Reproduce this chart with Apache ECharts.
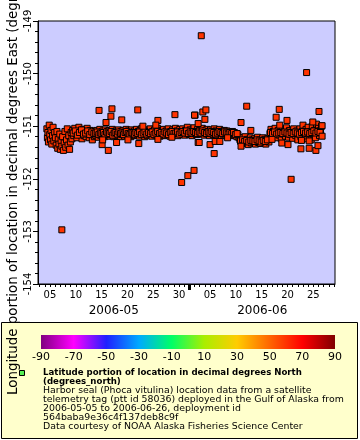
<!DOCTYPE html>
<html><head><meta charset="utf-8">
<script src="https://cdn.jsdelivr.net/npm/echarts@6/dist/echarts.min.js"></script>
<style>html,body{margin:0;padding:0;background:#fff}#c{width:360px;height:440px}</style>
</head><body><div id="c"></div>
<script>
// x values are day numbers counted from 2006-05-00 (June 1 = 32)
const xMin = 2.68, xMax = 60.2;
const labeledDays = [5,10,15,20,25,30,36,41,46,51,56];
const dayLabels = ['05','10','15','20','25','30','05','10','15','20','25'];
const monthStarts = [1, 32, 62];
const monthLabels = ['2006-05','2006-06'];
const majorTickDays = [32];
const colorbarTicks = [-90,-70,-50,-30,-10,10,30,50,70,90];
const colorbarColors = ['#800080','#ff00ff','#2020ff','#00aaff','#00ff66','#aaee00','#ffcc00','#ff6600','#ff0000','#800000'];
const yMin = -154, yMax = -149;

const bandPoints = [
[4.4,-151.05],[4.5,-151.22],[4.6,-151.12],[4.7,-151.30],[4.85,-150.98],[4.95,-151.16],[5.1,-151.26],[5.2,-151.08],[5.35,-151.34],[5.5,-151.18],[5.6,-151.02],[5.75,-151.28],[5.9,-151.12],[6.05,-151.22],[6.2,-151.36],[6.35,-151.10],
[6.5,-151.42],[6.6,-151.25],[6.75,-151.34],[6.9,-151.15],[7.0,-151.44],[7.15,-151.28],[7.3,-151.38],[7.45,-151.20],[7.6,-151.46],[7.75,-151.32],[7.9,-151.10],[8.05,-151.40],[8.2,-151.26],[8.35,-151.05],[8.5,-151.36],[8.65,-151.18],[8.8,-151.44],[8.95,-151.30],[9.1,-151.12],[9.25,-151.24],
[9.4,-151.08],[9.6,-151.18],[9.8,-151.04],[10.0,-151.14],[10.2,-151.22],[10.4,-151.10],[10.6,-151.02],[10.8,-151.16],[11.0,-151.12],[11.2,-151.24],[11.4,-151.06],[11.6,-151.18],[11.8,-151.10],[12.0,-151.20],[12.2,-151.04],[12.4,-151.14],[12.6,-151.22],[12.8,-151.08],[13.0,-151.16],[13.2,-151.26],[13.4,-151.12],[13.6,-151.20],
[13.75,-151.10],[13.9,-151.18],[14.05,-151.08],[14.2,-151.15],[14.35,-151.21],[14.5,-151.12],[14.65,-151.06],[14.8,-151.17],[14.95,-151.11],[15.1,-151.19],[15.25,-151.09],[15.4,-151.14],[15.55,-151.20],[15.7,-151.07],[15.85,-151.13],[16.0,-151.18],[16.15,-151.10],[16.3,-151.15],[16.45,-151.08],[16.6,-151.19],[16.75,-151.12],[16.9,-151.16],[17.05,-151.06],[17.2,-151.14],[17.35,-151.20],[17.5,-151.11],[17.65,-151.17],[17.8,-151.09],[17.95,-151.13],[18.1,-151.18],[18.25,-151.07],[18.4,-151.15],[18.55,-151.12],[18.7,-151.20],[18.85,-151.10],[19.0,-151.16],[19.15,-151.08],[19.3,-151.13],[19.45,-151.19],[19.6,-151.11],[19.75,-151.06],[19.9,-151.15],[20.05,-151.18],[20.2,-151.09],[20.35,-151.14],[20.5,-151.12],[20.65,-151.20],[20.8,-151.07],[20.95,-151.16],[21.1,-151.11],[21.25,-151.18],[21.4,-151.09],
[21.55,-151.13],[21.75,-151.06],[21.9,-151.17],[22.1,-151.10],[22.3,-151.19],[22.45,-151.08],[22.65,-151.14],[22.8,-151.04],[23.0,-151.16],[23.15,-151.11],[23.35,-151.20],[23.5,-151.07],[23.7,-151.13],[23.85,-151.18],[24.05,-151.09],[24.2,-151.15],[24.4,-151.05],[24.55,-151.12],[24.75,-151.19],[24.9,-151.10],[25.1,-151.14],[25.25,-151.07],[25.45,-151.17],[25.6,-151.12],[25.8,-151.04],[25.95,-151.16],[26.15,-151.10],[26.3,-151.19],[26.5,-151.08],[26.65,-151.13],[26.85,-151.17],[27.0,-151.06],[27.2,-151.12],[27.35,-151.18],[27.55,-151.09],[27.7,-151.15],[27.9,-151.05],[28.05,-151.13],[28.25,-151.19],[28.4,-151.10],[28.6,-151.14],[28.75,-151.07],[28.95,-151.16],[29.1,-151.11],[29.3,-151.04],[29.45,-151.15],[29.65,-151.09],[29.8,-151.18],[30.0,-151.12],[30.15,-151.06],
[30.35,-151.10],[30.55,-151.15],[30.7,-151.05],[30.9,-151.12],[31.1,-151.17],[31.25,-151.08],[31.45,-151.13],[31.6,-151.02],[31.8,-151.11],[32.0,-151.16],[32.15,-151.07],[32.35,-151.12],[32.5,-151.18],[32.7,-151.09],[32.9,-151.03],[33.05,-151.14],[33.25,-151.10],[33.4,-151.16],[33.6,-151.06],[33.8,-151.12],[33.95,-151.08],[34.15,-151.15],[34.3,-151.11],[34.5,-151.04],[34.7,-151.13],[34.85,-151.17],[35.05,-151.09],[35.2,-151.12],[35.4,-151.06],[35.55,-151.15],[35.75,-151.10],[35.9,-151.18],[36.1,-151.07],[36.25,-151.13],[36.45,-151.11],[36.6,-151.16],[36.8,-151.05],[37.0,-151.12],[37.15,-151.09],[37.35,-151.17],[37.5,-151.11],[37.7,-151.14],[37.85,-151.06],[38.05,-151.13],[38.2,-151.18],[38.4,-151.10],[38.55,-151.15],[38.75,-151.08],[38.9,-151.12],[39.1,-151.17],[39.25,-151.09],[39.45,-151.14],[39.6,-151.11],[39.8,-151.18],[40.0,-151.13],[40.15,-151.17],[40.35,-151.10],[40.5,-151.15],[40.7,-151.12],[40.85,-151.18],[41.05,-151.14],[41.2,-151.20],[41.4,-151.16],[41.6,-151.22],
[41.8,-151.26],[42.0,-151.30],[42.2,-151.22],[42.4,-151.33],[42.6,-151.27],[42.8,-151.20],[43.0,-151.31],[43.2,-151.25],[43.4,-151.35],[43.6,-151.28],[43.8,-151.22],[44.0,-151.32],[44.2,-151.26],[44.4,-151.30],[44.6,-151.24],[44.8,-151.34],[45.0,-151.28],[45.2,-151.21],[45.4,-151.31],[45.6,-151.26],[45.8,-151.33],[46.0,-151.27],[46.2,-151.22],[46.4,-151.30],[46.6,-151.25],[46.8,-151.34],[47.0,-151.28],[47.2,-151.23],[47.4,-151.30],
[47.6,-151.14],[47.8,-151.06],[48.0,-151.20],[48.2,-151.10],[48.4,-151.16],[48.6,-151.04],[48.8,-151.13],[49.0,-151.22],[49.2,-151.08],[49.4,-151.17],[49.6,-151.11],[49.8,-151.24],[50.0,-151.06],[50.2,-151.15],[50.4,-151.10],[50.6,-151.19],[50.8,-151.03],[51.0,-151.13],[51.2,-151.21],[51.4,-151.08],[51.6,-151.16],[51.8,-151.11],[52.0,-151.23],[52.2,-151.05],[52.4,-151.14],[52.6,-151.18],[52.8,-151.09],[53.0,-151.26],[53.2,-151.12],
[53.4,-151.05],[53.6,-151.20],[53.8,-151.10],[54.0,-150.98],[54.2,-151.16],[54.4,-151.24],[54.6,-151.06],[54.8,-151.14],[55.0,-151.02],[55.2,-151.20],[55.4,-151.10],[55.6,-151.26],[55.8,-151.00],[56.0,-151.15],[56.2,-151.08],[56.4,-151.22],[56.6,-150.96],[56.8,-151.12],[57.0,-151.04],[57.2,-151.18],[57.4,-151.08],[57.6,-151.00]
];

const bandCorePoints = [
[9.5,-151.13],[9.9,-151.09],[10.3,-151.17],[10.7,-151.12],[11.1,-151.07],[11.5,-151.15],[11.9,-151.13],[12.3,-151.09],[12.7,-151.16],[13.1,-151.11],[13.5,-151.14],
[13.85,-151.13],[14.15,-151.11],[14.45,-151.16],[14.75,-151.13],[15.05,-151.14],[15.35,-151.12],[15.65,-151.16],[15.95,-151.11],[16.25,-151.13],[16.55,-151.14],[16.85,-151.10],[17.15,-151.17],[17.45,-151.13],[17.75,-151.12],[18.05,-151.15],[18.35,-151.11],[18.65,-151.14],[18.95,-151.13],[19.25,-151.16],[19.55,-151.12],[19.85,-151.10],[20.15,-151.14],[20.45,-151.16],[20.75,-151.12],[21.05,-151.13],[21.35,-151.15],
[21.65,-151.12],[22.0,-151.14],[22.35,-151.11],[22.7,-151.16],[23.05,-151.13],[23.4,-151.10],[23.75,-151.15],[24.1,-151.12],[24.45,-151.14],[24.8,-151.11],[25.15,-151.16],[25.5,-151.13],[25.85,-151.10],[26.2,-151.14],[26.55,-151.12],[26.9,-151.15],[27.25,-151.11],[27.6,-151.13],[27.95,-151.16],[28.3,-151.12],[28.65,-151.10],[29.0,-151.14],[29.35,-151.13],[29.7,-151.11],[30.05,-151.15],
[30.4,-151.12],[30.75,-151.10],[31.1,-151.13],[31.45,-151.09],[31.8,-151.14],[32.15,-151.11],[32.5,-151.13],[32.85,-151.10],[33.2,-151.12],[33.55,-151.14],[33.9,-151.11],[34.25,-151.13],[34.6,-151.09],[34.95,-151.12],[35.3,-151.14],[35.65,-151.11],[36.0,-151.13],[36.35,-151.10],[36.7,-151.12],[37.05,-151.15],[37.4,-151.13],[37.75,-151.10],[38.1,-151.12],[38.45,-151.14],[38.8,-151.11],[39.15,-151.13],[39.5,-151.15],[39.85,-151.12],[40.2,-151.14],[40.55,-151.12],[40.9,-151.16],[41.25,-151.14],
[41.9,-151.28],[42.3,-151.26],[42.7,-151.29],[43.1,-151.27],[43.5,-151.30],[43.9,-151.27],[44.3,-151.28],[44.7,-151.29],[45.1,-151.26],[45.5,-151.28],[45.9,-151.30],[46.3,-151.27],[46.7,-151.29],[47.1,-151.26],
[47.7,-151.12],[48.1,-151.14],[48.5,-151.11],[48.9,-151.15],[49.3,-151.13],[49.7,-151.12],[50.1,-151.14],[50.5,-151.11],[50.9,-151.13],[51.3,-151.15],[51.7,-151.12],[52.1,-151.14],[52.5,-151.11],[52.9,-151.13],[53.3,-151.15],[53.7,-151.12],[54.1,-151.10],[54.5,-151.13],[54.9,-151.11],[55.3,-151.14],[55.7,-151.12],[56.1,-151.09],[56.5,-151.13],[56.9,-151.10],[57.3,-151.12]
];

const outlierPoints = [
[14.5,-150.70],[17.0,-150.67],[16.8,-150.81],[15.85,-150.93],[22.0,-150.69],[18.9,-150.88],[29.2,-150.78],[33.1,-150.79],[25.9,-150.89],[25.5,-150.98],[23.0,-151.0],
[17.9,-151.31],[16.3,-151.46],[20.1,-151.26],[22.2,-151.33],[15.1,-151.35],[28.6,-151.21],[33.7,-151.31],[15.2,-151.26],[25.9,-151.25],
[31.7,-151.94],[32.9,-151.84],[30.5,-152.07],[7.3,-152.97],[34.3,-149.28],[54.7,-149.98],[51.7,-152.01],
[43.1,-150.62],[49.4,-150.68],[57.1,-150.72],[33.0,-150.79],[34.6,-150.73],[35.2,-150.69],[35.0,-150.87],[42.0,-150.93],[48.8,-150.83],[50.9,-150.89],[49.5,-150.98],[55.9,-150.92],[33.7,-150.95],
[33.9,-151.31],[36.0,-151.35],[36.8,-151.52],[37.0,-151.29],[37.9,-151.29],[42.0,-151.38],[49.9,-151.32],[51.1,-151.35],[53.6,-151.43],[55.2,-151.42],[56.5,-151.46],[56.9,-151.37],
[43.9,-151.08],[39.4,-151.22],[48.0,-151.25],[53.7,-151.27],[55.2,-151.28],[57.7,-150.99],[57.7,-151.19]
];

const yTitle = 'Longitude portion of location in decimal degrees East (degrees_east)';
const legendTitleLines = ['Latitude portion of location in decimal degrees North','(degrees_north)'];
const legendDescLines = [
 'Harbor seal (Phoca vitulina) location data from a satellite',
 'telemetry tag (ptt id 58036) deployed in the Gulf of Alaska from',
 '2006-05-05 to 2006-06-26, deployment id',
 '564baba9e36c4f137deb8c9f',
 'Data courtesy of NOAA Alaska Fisheries Science Center'
];

const dayTicks = [];
for (let d = Math.ceil(xMin); d <= Math.floor(xMax); d++) dayTicks.push(d);
const monthMids = [];
for (let i = 0; i < monthLabels.length; i++) {
  const a = Math.max(monthStarts[i], xMin), b = Math.min(monthStarts[i+1], xMax);
  monthMids.push((a + b) / 2);
}
const FONT = 'DejaVu Sans';
const chart = echarts.init(document.getElementById('c'), null, {renderer:'canvas'});
const gradStops = colorbarColors.map((c,i)=>({offset:i/(colorbarColors.length-1), color:c}));

chart.setOption({
  animation:false,
  backgroundColor:'#ffffff',
  textStyle:{fontFamily:FONT},
  grid:[
    {left:38, top:21, width:297, height:263, show:true, backgroundColor:'#ccccff', borderColor:'#000', borderWidth:1, containLabel:false},
    {left:41, top:335, width:294, height:14, show:false}
  ],
  xAxis:[
    {type:'value', gridIndex:0, min:xMin, max:xMax, splitLine:{show:false},
     axisLine:{show:true, lineStyle:{color:'#000', width:1}},
     axisTick:{show:true, customValues:dayTicks, length:3, lineStyle:{color:'#000'}},
     axisLabel:{show:true, customValues:labeledDays, margin:6, fontSize:10, color:'#000', fontFamily:FONT,
       formatter:(v)=>{const i=labeledDays.indexOf(Math.round(v)); return i>=0?dayLabels[i]:'';}}},
    {type:'value', gridIndex:0, min:xMin, max:xMax, position:'bottom', splitLine:{show:false},
     axisLine:{show:false}, axisLabel:{show:false},
     axisTick:{show:true, customValues:majorTickDays, length:6, lineStyle:{color:'#000', width:3}}},
    {type:'value', gridIndex:0, min:xMin, max:xMax, position:'bottom', splitLine:{show:false},
     axisLine:{show:false}, axisTick:{show:false},
     axisLabel:{show:true, customValues:monthMids, margin:21, fontSize:12, color:'#000', fontFamily:FONT,
       formatter:(v)=>{let best=0;for(let i=0;i<monthMids.length;i++){if(Math.abs(monthMids[i]-v)<Math.abs(monthMids[best]-v))best=i;}return monthLabels[best];}}},
    {type:'value', gridIndex:1, min:colorbarTicks[0], max:colorbarTicks[colorbarTicks.length-1], interval:20,
     splitLine:{show:false}, axisLine:{show:false}, axisTick:{show:false},
     axisLabel:{show:true, customValues:colorbarTicks, margin:3, fontSize:11, color:'#000', fontFamily:FONT}}
  ],
  yAxis:[
    {type:'value', gridIndex:0, min:yMin, max:yMax, interval:1, splitLine:{show:false},
     axisLine:{show:true, lineStyle:{color:'#000'}},
     axisTick:{show:true, length:5, lineStyle:{color:'#000'}},
     minorTick:{show:true, splitNumber:5, length:3, lineStyle:{color:'#000'}},
     axisLabel:{show:true, rotate:90, margin:5, fontSize:10, color:'#000', fontFamily:FONT}},
    {type:'value', gridIndex:1, show:false, min:0, max:1}
  ],
  graphic:[
    {type:'rect', z:0, shape:{x:1.5, y:322.5, width:356, height:116}, style:{fill:'#ffffcc', stroke:'#000', lineWidth:1}},
    {type:'rect', z:1, shape:{x:41, y:335, width:294, height:14},
     style:{fill:new echarts.graphic.LinearGradient(0,0,1,0,gradStops)}},
    {type:'rect', z:1, shape:{x:19.5, y:370.5, width:5, height:5}, style:{fill:'#55ee55', stroke:'#000', lineWidth:1}},
    {type:'text', z:2, x:43, y:368.5, style:{text:legendTitleLines.join('\n'), fontFamily:FONT, fontWeight:'bold', fontSize:8.6, lineHeight:9, fill:'#000', align:'left', verticalAlign:'top'}},
    {type:'text', z:2, x:43, y:386, style:{text:legendDescLines.join('\n'), fontFamily:FONT, fontSize:9.4, lineHeight:9, fill:'#000', align:'left', verticalAlign:'top'}},
    {type:'text', z:5, x:14, y:395, rotation:Math.PI/2, style:{text:yTitle, fontFamily:FONT, fontSize:13.4, fill:'#000', align:'left', verticalAlign:'middle'}}
  ],
  series:[
    {type:'scatter', xAxisIndex:0, yAxisIndex:0, data:bandPoints.concat(bandCorePoints, outlierPoints),
     symbol:'rect', symbolSize:6, itemStyle:{color:'#ff3300', borderColor:'#000', borderWidth:1, opacity:1}, emphasis:{disabled:true}}
  ]
});
</script></body></html>
